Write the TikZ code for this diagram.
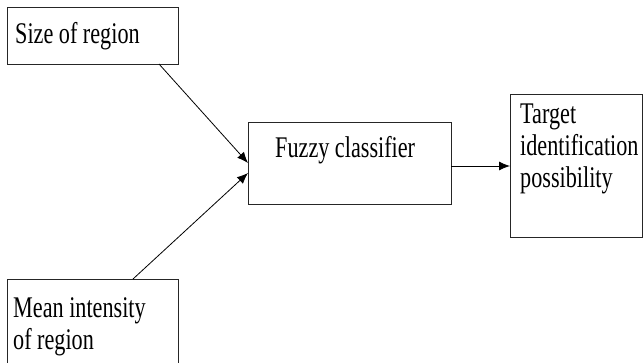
\documentclass[tikz,border=0pt]{standalone}
\usepackage{fontspec}
\setmainfont[FakeStretch=0.74]{Liberation Serif}
\usetikzlibrary{arrows.meta}
\begin{document}
\begin{tikzpicture}[x=1pt,y=-1pt,
  box/.style={draw=black!85,line width=0.9pt,inner sep=0pt,outer sep=0pt},
  lbl/.style={anchor=base west,inner sep=0pt,font=\fontsize{30}{32}\selectfont,align=left},
  conn/.style={draw=black,line width=0.8pt,-{Latex[length=11pt,width=9pt]}}]
\useasboundingbox (0,0) rectangle (643,362);
\node[box,minimum width=171pt,minimum height=57pt] (size) at (92.5,35.5) {};
\node[box,minimum width=171pt,minimum height=100pt] (mean) at (92.5,329) {};
\node[box,minimum width=203pt,minimum height=82pt] (fuzzy) at (349.5,163) {};
\node[box,minimum width=132pt,minimum height=143pt] (target) at (576,165.5) {};
\node[lbl] (tsize) at (15,43) {Size of region};
\node[lbl] (tmean) at (13,349) {Mean intensity\\of region};
\node[lbl] (ttarget) at (520,187) {Target\\identification\\possibility};
\node[lbl] (tfuzzy) at (275,157) {Fuzzy classifier};
\coordinate (a1) at (159,64);
\coordinate (a2) at (133,279);
\coordinate (b1) at (248,163);
\coordinate (b2) at (248,173);
\coordinate (c1) at (451,166);
\coordinate (c2) at (510,166);
\draw[conn] (a1) -- (b1);
\draw[conn] (a2) -- (b2);
\draw[conn] (c1) -- (c2);
\end{tikzpicture}
\end{document}
